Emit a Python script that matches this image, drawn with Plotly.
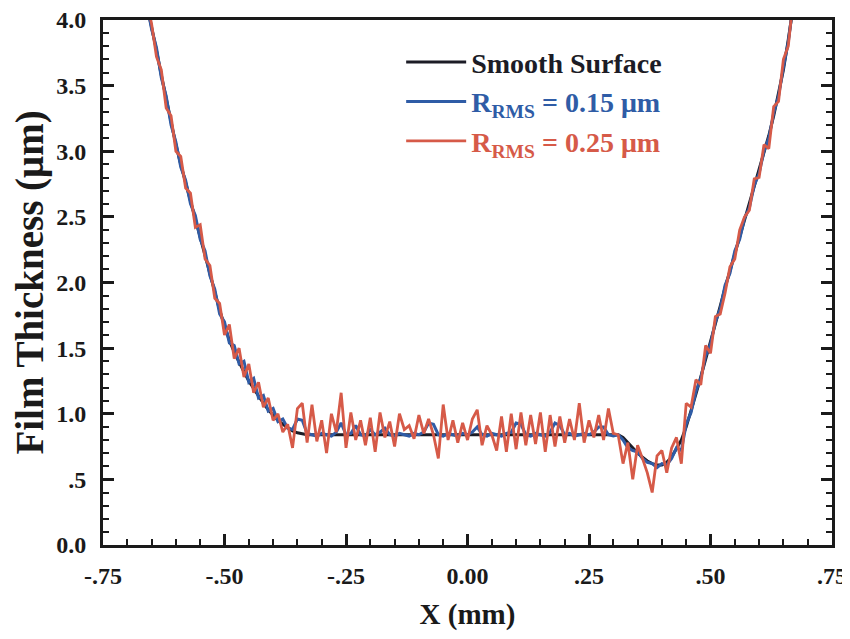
import numpy as np
import plotly.graph_objects as go

# x positions (mm), 0.01 mm grid from -0.66 to 0.67
x_mm = np.round(np.arange(-0.66, 0.6701, 0.01), 2)

smooth = [
    4.12, 3.95, 3.77, 3.58, 3.40, 3.22, 3.05, 2.90, 2.76, 2.62, 2.49, 2.35, 2.21, 2.07,
    1.92, 1.79, 1.67, 1.56, 1.47, 1.39, 1.32, 1.25, 1.19, 1.13, 1.08, 1.03, 0.99, 0.95,
    0.92, 0.895, 0.87, 0.855, 0.845,
    0.84, 0.84, 0.84, 0.84, 0.84, 0.84, 0.84, 0.84, 0.84, 0.84, 0.84, 0.84, 0.84, 0.84,
    0.84, 0.84, 0.84, 0.84, 0.84, 0.84, 0.84, 0.84, 0.84, 0.84, 0.84, 0.84, 0.84, 0.84,
    0.84, 0.84, 0.84, 0.84, 0.84, 0.84, 0.84, 0.84, 0.84, 0.84, 0.84, 0.84, 0.84, 0.84,
    0.84, 0.84, 0.84, 0.84, 0.84, 0.84, 0.84, 0.84, 0.84, 0.84, 0.84, 0.84, 0.84, 0.84,
    0.84, 0.84, 0.84, 0.84, 0.84, 0.84, 0.84, 0.84, 0.84,
    0.82, 0.78, 0.74, 0.70, 0.67, 0.64, 0.62, 0.61, 0.61, 0.63, 0.67, 0.73, 0.80, 0.90,
    1.02, 1.15, 1.28, 1.41, 1.55, 1.68, 1.82, 1.96, 2.09, 2.22, 2.35, 2.47, 2.59, 2.72,
    2.85, 2.98, 3.12, 3.27, 3.44, 3.62, 3.85, 4.10,
]

rms_015 = [
    4.12, 3.93, 3.79, 3.56, 3.42, 3.20, 3.07, 2.88, 2.78, 2.60, 2.51, 2.33, 2.24, 2.05,
    1.95, 1.76, 1.70, 1.54, 1.52, 1.38, 1.40, 1.24, 1.27, 1.12, 1.14, 1.02, 1.04, 0.94,
    0.96, 0.89, 0.88, 0.96, 0.95,
    0.85, 0.84, 0.83, 0.85, 0.84, 0.83, 0.86, 0.93, 0.84, 0.85, 0.91, 0.84, 0.83, 0.88,
    0.84, 0.86, 0.89, 0.84, 0.83, 0.85, 0.84, 0.83, 0.85, 0.84, 0.86, 0.93, 0.92, 0.84,
    0.83, 0.85, 0.84, 0.83, 0.85, 0.84, 0.86, 0.90, 0.84, 0.83, 0.85, 0.84, 0.83, 0.85,
    0.86, 0.93, 0.92, 0.84, 0.83, 0.85, 0.84, 0.83, 0.86, 0.93, 0.91, 0.84, 0.85, 0.83,
    0.84, 0.85, 0.84, 0.86, 0.90, 0.90, 0.84, 0.83, 0.84,
    0.80, 0.74, 0.72, 0.71, 0.66, 0.63, 0.62, 0.59, 0.62, 0.61, 0.66, 0.74, 0.72, 0.92,
    1.01, 1.17, 1.27, 1.44, 1.53, 1.70, 1.80, 1.98, 2.07, 2.24, 2.33, 2.49, 2.57, 2.74,
    2.83, 3.00, 3.10, 3.29, 3.42, 3.64, 3.83, 4.12,
]

rms_025 = [
    4.15, 3.97, 3.72, 3.62, 3.33, 3.27, 3.00, 2.96, 2.72, 2.68, 2.42, 2.44, 2.18, 2.13,
    1.88, 1.84, 1.60, 1.68, 1.42, 1.50, 1.28, 1.38, 1.16, 1.24, 1.05, 1.12, 0.95, 1.00,
    0.86, 0.92, 0.74, 1.04, 1.08,
    0.78, 1.07, 0.79, 0.95, 0.70, 1.00, 0.86, 1.16, 0.74, 1.01, 0.80, 0.95, 0.76, 0.97,
    0.71, 1.01, 0.82, 0.94, 0.75, 1.00, 0.88, 0.91, 0.81, 0.99, 0.85, 0.96, 0.84, 0.66,
    1.07, 0.80, 0.95, 0.78, 0.93, 0.80, 0.96, 1.03, 0.76, 0.91, 0.84, 0.72, 0.98, 0.71,
    1.00, 0.73, 1.01, 0.76, 0.99, 0.77, 1.01, 0.71, 0.99, 0.75, 0.98, 0.78, 0.96, 0.80,
    1.08, 0.78, 0.95, 0.82, 0.99, 0.80, 1.04, 0.85, 0.84,
    0.62, 0.78, 0.50, 0.76, 0.66, 0.55, 0.40, 0.68, 0.72, 0.55, 0.74, 0.82, 0.62, 1.08,
    1.05, 1.26, 1.22, 1.52, 1.46, 1.74, 1.76, 1.92, 2.12, 2.18, 2.40, 2.50, 2.55, 2.79,
    2.80, 3.05, 3.02, 3.34, 3.38, 3.70, 3.80, 4.15,
]

x_tickvals = [-0.75, -0.5, -0.25, 0.0, 0.25, 0.5, 0.75]
x_ticktext = ["-.75", "-.50", "-.25", "0.00", ".25", ".50", ".75"]
y_tickvals = [0.0, 0.5, 1.0, 1.5, 2.0, 2.5, 3.0, 3.5, 4.0]
y_ticktext = ["0.0", ".5", "1.0", "1.5", "2.0", "2.5", "3.0", "3.5", "4.0"]

BLACK = "#1c1c26"
BLUE = "#2f5ca6"
RED = "#d65a48"
FONT = "Liberation Serif"

fig = go.Figure()
fig.add_trace(go.Scatter(x=x_mm, y=smooth, mode="lines", line=dict(color=BLACK, width=3),
                         name="<span style='color:%s'>Smooth Surface</span>" % BLACK))
fig.add_trace(go.Scatter(x=x_mm, y=rms_015, mode="lines", line=dict(color=BLUE, width=3),
                         name="<span style='color:%s'>R<sub>RMS</sub> = 0.15 μm</span>" % BLUE))
fig.add_trace(go.Scatter(x=x_mm, y=rms_025, mode="lines", line=dict(color=RED, width=2.8),
                         name="<span style='color:%s'>R<sub>RMS</sub> = 0.25 μm</span>" % RED))

axis_common = dict(
    showgrid=False, zeroline=False, showline=True, linecolor="#1a1a1a", linewidth=3,
    ticks="inside", ticklen=11, tickwidth=3, tickcolor="#1a1a1a", automargin=False,
    ticklabeloverflow="allow",
    tickfont=dict(family=FONT, size=24, color="#1a1a1a", weight="bold"),
)

# the page body adds an 8px margin; keep the page within the window (no scrollbar)
fig.update_layout(
    width=842, height=623,
    margin=dict(l=95, r=18, t=12, b=86),
    plot_bgcolor="white", paper_bgcolor="white",
    font=dict(family=FONT, color="#1a1a1a"),
    xaxis=dict(
        range=[-0.75, 0.75], tickvals=x_tickvals, ticktext=x_ticktext, mirror=True,
        ticklabelstandoff=7,
        title=dict(text="X (mm)", font=dict(family=FONT, size=29, weight="bold"), standoff=22),
        minor=dict(dtick=0.05, tick0=0, ticks="inside", ticklen=6, tickwidth=2, tickcolor="#1a1a1a"),
        **axis_common,
    ),
    yaxis=dict(
        range=[0, 4.0], tickvals=y_tickvals, ticktext=y_ticktext, mirror="ticks",
        ticklabelstandoff=9,
        title=dict(text="Film Thickness (μm)", font=dict(family=FONT, size=39, weight="bold"), standoff=2),
        minor=dict(dtick=0.1, tick0=0, ticks="inside", ticklen=6, tickwidth=2, tickcolor="#1a1a1a"),
        **axis_common,
    ),
    legend=dict(
        x=0.409, y=0.967, xanchor="left", yanchor="top",
        bgcolor="rgba(0,0,0,0)", borderwidth=0,
        font=dict(family=FONT, size=28, weight="bold"),
        itemwidth=60, tracegroupgap=4,
    ),
    showlegend=True,
)

fig.write_html("out.html")
